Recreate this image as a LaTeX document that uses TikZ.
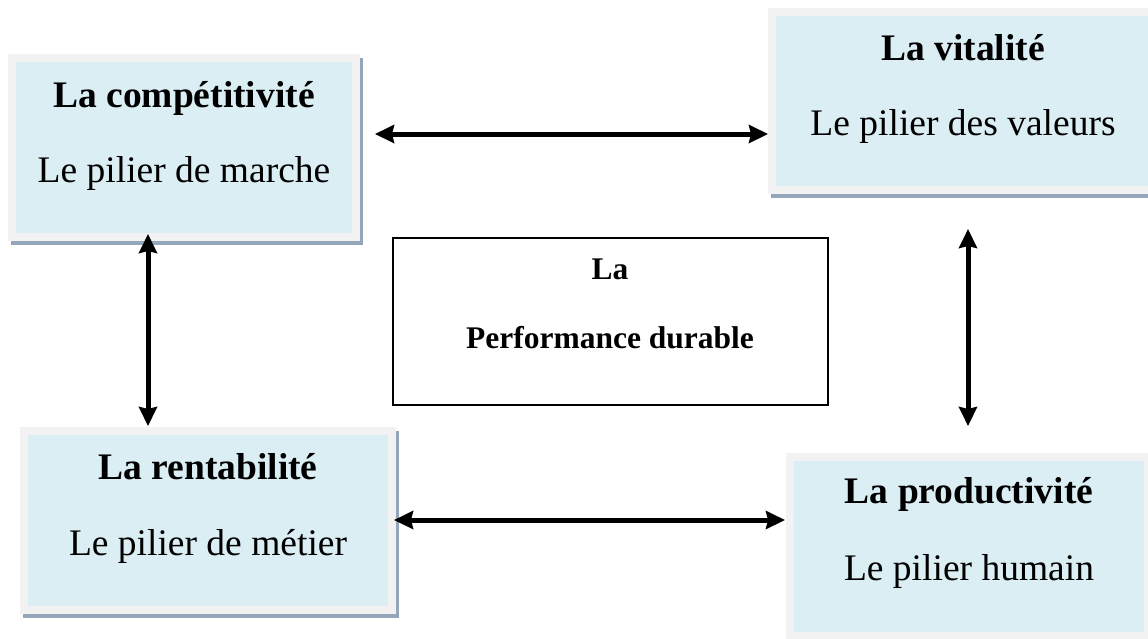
\documentclass[tikz,border=0pt]{standalone}
\usepackage{fontspec}
\setmainfont{Liberation Serif}
\usetikzlibrary{arrows.meta}
\pgfdeclarelayer{bg}
\pgfsetlayers{bg,main}
\definecolor{boxblue}{RGB}{218,238,243}
\definecolor{boxgray}{RGB}{242,242,242}
\definecolor{shadowc}{RGB}{150,166,186}
\tikzset{
  x=1pt, y=1pt,
  pillar/.style={draw=boxgray, line width=8pt, fill=boxblue, inner sep=0pt},
  centerbox/.style={draw=black, line width=1.5pt, fill=white, inner sep=0pt},
  ttl/.style={anchor=base, inner sep=0pt, font=\fontsize{37.5}{40}\selectfont\bfseries},
  sub/.style={anchor=base, inner sep=0pt, font=\fontsize{37.5}{40}\selectfont},
  ctxt/.style={anchor=base, inner sep=0pt, font=\fontsize{31.5}{34}\selectfont\bfseries},
  dbl/.style={line width=5pt, {Stealth[length=19pt,width=18pt,inset=2pt]}-{Stealth[length=19pt,width=18pt,inset=2pt]}},
  shd/.style={fill=shadowc}
}
\begin{document}
\begin{tikzpicture}
\useasboundingbox (0,0) rectangle (1148,-638);
\clip (0,0) rectangle (1148,-638);

% boxes
\node[pillar, minimum width=344pt, minimum height=179pt] (B1) at (184,-147.5) {};
\node[pillar, minimum width=382pt, minimum height=178pt] (B2) at (963,-101) {};
\node[pillar, minimum width=368pt, minimum height=179pt] (B3) at (208,-520.5) {};
\node[pillar, minimum width=358pt, minimum height=179pt] (B4) at (969,-546.5) {};
\node[centerbox, minimum width=435pt, minimum height=167pt] (C) at (610.5,-321.5) {};

% shadows
\begin{pgfonlayer}{bg}
\foreach \b in {B1,B2,B3,B4}{
  \fill[shd] ([shift={(3,-4)}]\b.south west) rectangle ([shift={(3,-4)}]\b.north east);
}
\end{pgfonlayer}

% texts
\node[ttl] (t1) at (184,-107) {La compétitivité};
\node[sub] (s1) at (184,-182) {Le pilier de marche};
\node[ttl] (t2) at (963,-60) {La vitalité};
\node[sub] (s2) at (963,-135) {Le pilier des valeurs};
\node[ttl] (t3) at (208,-479) {La rentabilité};
\node[sub] (s3) at (208,-555) {Le pilier de métier};
\node[ttl] (t4) at (969,-503) {La productivité};
\node[sub] (s4) at (969,-580) {Le pilier humain};
\node[ctxt] (c1) at (610,-279) {La};
\node[ctxt] (c2) at (610,-348) {Performance durable};

% arrow end points
\coordinate (a1) at (375,-134);
\coordinate (a2) at (768,-134);
\coordinate (b1) at (148,-234);
\coordinate (b2) at (148,-426);
\coordinate (d1) at (968,-229);
\coordinate (d2) at (968,-426);
\coordinate (e1) at (394,-520);
\coordinate (e2) at (785,-520);

\draw[dbl] (a1) -- (a2);
\draw[dbl] (b1) -- (b2);
\draw[dbl] (d1) -- (d2);
\draw[dbl] (e1) -- (e2);
\end{tikzpicture}
\end{document}
